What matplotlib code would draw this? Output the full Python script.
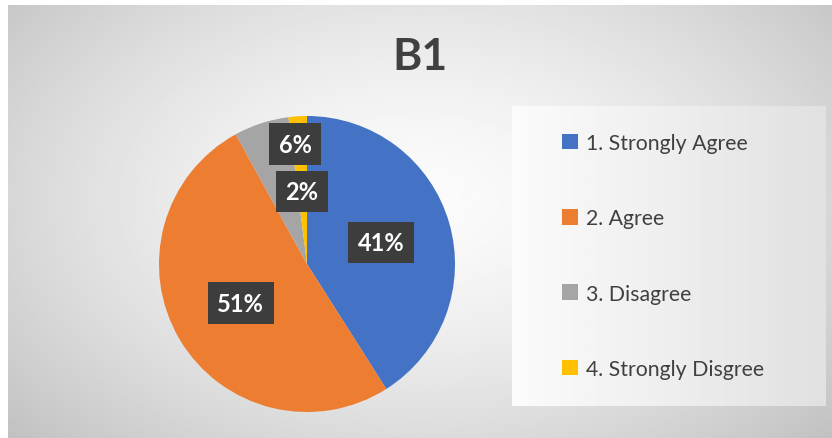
import numpy as np
import matplotlib
matplotlib.use("Agg")
import matplotlib.pyplot as plt
from matplotlib.patches import Patch

# data
labels = ["1. Strongly Agree", "2. Agree", "3. Disagree", "4. Strongly Disgree"]
values = [41, 51, 6, 2]
colors = ["#4472C4", "#ED7D31", "#A5A5A5", "#FFC000"]
title = "B1"

plt.rcParams['font.family'] = ['Lato', 'DejaVu Sans']

W, H = 832, 439
fig = plt.figure(figsize=(W / 100, H / 100), dpi=100)

# radial gradient background
bg = fig.add_axes([8 / W, 0, 1 - 8 / W, 1 - 6 / H])
yy, xx = np.mgrid[0:1:300j, 0:1:600j]
r = np.sqrt(((xx - 0.5) / 0.62) ** 2 + ((yy - 0.45) / 0.75) ** 2)
g = np.clip(0.985 - 0.2 * r ** 1.5, 0.76, 1)
bg.imshow(g, cmap="gray", vmin=0, vmax=1, aspect="auto", extent=[0, 1, 0, 1])
bg.set_axis_off()

# legend box with linear gradient
lx0, lx1, ly0, ly1 = 512, 825, 107, 407
lax = fig.add_axes([lx0 / W, 1 - ly1 / H, (lx1 - lx0) / W, (ly1 - ly0) / H])
lg = np.tile(np.linspace(0.985, 0.88, 300), (50, 1))
lax.imshow(lg, cmap="gray", vmin=0, vmax=1, aspect="auto", extent=[0, 1, 0, 1])
lax.set_xlim(0, 1)
lax.set_ylim(0, 1)
lax.set_axis_off()

handles = [Patch(facecolor=c, edgecolor="none") for c in colors]
leg = lax.legend(handles, labels, loc="center left", bbox_to_anchor=(0.10, 0.5),
                 frameon=False, fontsize=15.3, labelspacing=2.6,
                 handlelength=0.75, handleheight=0.75, handletextpad=0.35)
for t in leg.get_texts():
    t.set_color("#404040")

# pie
cx, cy, rad = 307, 265, 148
ax = fig.add_axes([(cx - rad) / W, (H - cy - rad) / H, 2 * rad / W, 2 * rad / H])
wedges, texts, autotexts = ax.pie(values, colors=colors, startangle=90, counterclock=False,
                                  autopct=lambda p: f"{p:.0f}%", pctdistance=0.52,
                                  wedgeprops=dict(linewidth=0))
ax.set_xlim(-1, 1)
ax.set_ylim(-1, 1)
ax.set_aspect("equal")

for t in autotexts:
    t.set_color("white")
    t.set_fontweight("bold")
    t.set_fontsize(17)
    t.set_bbox(dict(facecolor="#3d3d3d", edgecolor="none", boxstyle="square,pad=0.4"))

# small slices: labels stacked above the centre like Excel
autotexts[2].set_position((-0.08, 0.81))
autotexts[3].set_position((-0.034, 0.49))

fig.text(420 / W, 1 - 57 / H, title, ha="center", va="center",
         fontsize=32, fontweight="bold", color="#404040")

fig.savefig("out.png", dpi=100)
